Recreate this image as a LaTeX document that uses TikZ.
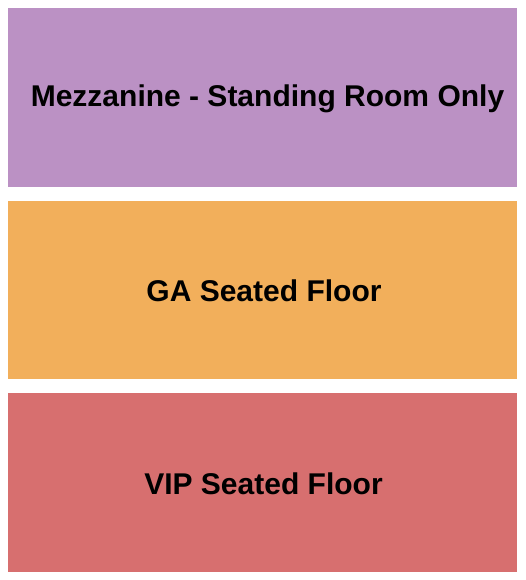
\documentclass[tikz,border=0pt]{standalone}
\usepackage{fontspec}
\setmainfont{Liberation Sans}
\definecolor{mezz}{RGB}{187,145,196}
\definecolor{ga}{RGB}{242,175,91}
\definecolor{vip}{RGB}{215,111,111}
\begin{document}
\begin{tikzpicture}[x=1pt,y=-1pt,
  label/.style={font=\bfseries\fontsize{30}{32}\selectfont,text=black,inner sep=0pt}]
\useasboundingbox (0,0) rectangle (525,580);
\fill[mezz] (8,8) rectangle (517,186.5);
\fill[ga] (8,201) rectangle (517,379);
\fill[vip] (8,393) rectangle (517,572);
\node[label] (mezzlabel) at (267.5,98.5) {Mezzanine - Standing Room Only};
\node[label] (galabel) at (264,290.5) {GA Seated Floor};
\node[label] (viplabel) at (263.5,483.5) {VIP Seated Floor};
\end{tikzpicture}
\end{document}
